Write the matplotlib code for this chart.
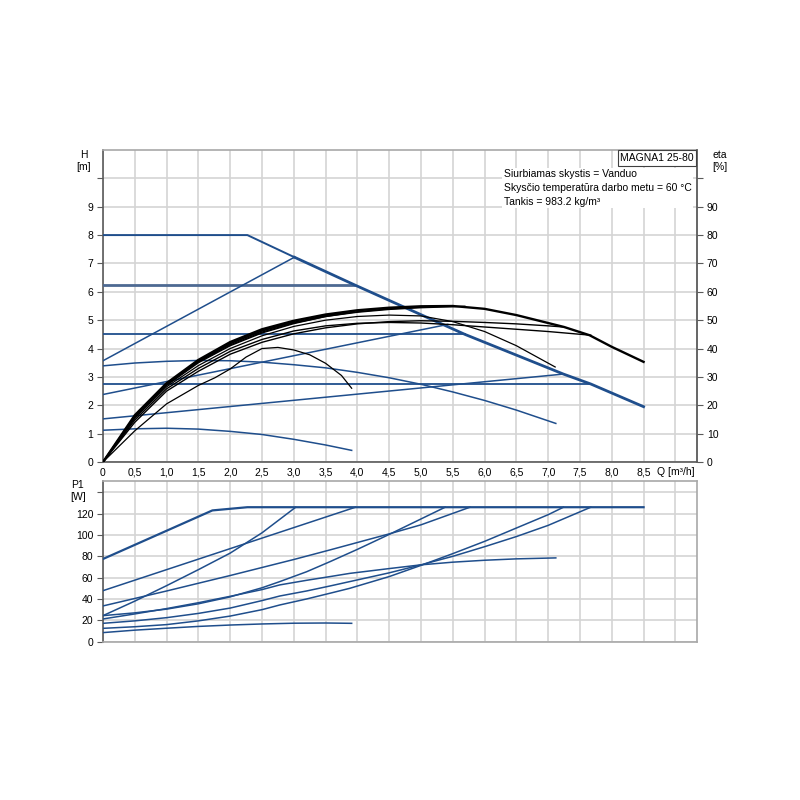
import matplotlib
matplotlib.use("Agg")
import matplotlib.pyplot as plt
import numpy as np

plt.rcParams['font.family'] = ['Liberation Sans', 'DejaVu Sans']

BLUE = '#1f4e8c'
GRID = '#d4d4d4'
SPINE = '#5a5a5a'

# ---------------- QH curves (H in m) ----------------
qh_max_q = [0, 2.27, 3.01, 3.95, 5.69, 7.24, 7.67, 8.5]
qh_max_h = [8.0, 8.0, 7.22, 6.25, 4.5, 3.1, 2.75, 1.95]

cp625_q = [0, 3.95]; cp625_h = [6.25, 6.25]
cp45_q = [0, 5.69]; cp45_h = [4.5, 4.5]
cp275_q = [0, 7.67]; cp275_h = [2.75, 2.75]

pp3_q = [0, 3.01]; pp3_h = [3.57, 7.22]
pp2_q = [0, 5.42]; pp2_h = [2.38, 4.85]
pp1_q = [0, 7.24]; pp1_h = [1.52, 3.1]

c3_q = [0, 0.5, 1, 1.5, 2, 2.5, 3, 3.5, 4, 4.5, 5, 5.5, 6, 6.5, 7.12]
c3_h = [3.39, 3.49, 3.55, 3.58, 3.57, 3.52, 3.43, 3.32, 3.16, 2.97, 2.74, 2.47, 2.17, 1.83, 1.36]

clow_q = [0, 0.5, 1, 1.5, 2, 2.5, 3, 3.5, 3.91]
clow_h = [1.12, 1.17, 1.19, 1.16, 1.08, 0.97, 0.8, 0.6, 0.41]

# ---------------- efficiency curves (eta in %) ----------------
emax_q = [0, 0.5, 1, 1.5, 2, 2.5, 3, 3.5, 4, 4.5, 5, 5.5, 6, 6.5, 7, 7.25, 7.65, 8, 8.5]
emax_e = [0, 16.5, 27.8, 36, 42.3, 46.8, 49.8, 52, 53.5, 54.4, 54.9, 55, 54, 51.8, 49, 47.6, 44.7, 40.6, 35.3]

ec3_q = [0, 0.5, 1, 1.5, 2, 2.5, 3, 3.5, 4, 4.5, 5, 5.5, 6, 6.5, 7.11]
ec3_e = [0, 15.5, 26.5, 34, 40, 44.5, 47.8, 50, 51.3, 51.8, 51.5, 49.5, 46, 41, 33.5]

elow_q = [0, 0.5, 1, 1.5, 1.76, 2, 2.25, 2.5, 2.75, 3, 3.25, 3.5, 3.75, 3.91]
elow_e = [0, 11, 20.5, 27, 29.7, 32.8, 37, 40, 40.4, 39.5, 37.8, 34.8, 30.5, 26]

ep1_q = [0, 0.5, 1, 1.5, 2, 2.5, 3, 3.5, 4, 4.5, 5, 5.5, 6, 6.5, 7, 7.24]
ep1_e = [0, 14, 25, 32, 38, 42.2, 45.2, 47.3, 48.7, 49.5, 49.8, 49.6, 49.2, 48.7, 48, 47.6]

ecp275_q = [0, 0.5, 1, 1.5, 2, 2.5, 3, 3.5, 4, 4.5, 5, 5.5, 6, 6.5, 7, 7.67]
ecp275_e = [0, 14.8, 25.8, 33, 39, 43.2, 46.2, 48, 48.9, 49.2, 49, 48.4, 47.6, 46.8, 46, 44.7]

ep2_q = [0, 0.5, 1, 1.5, 2, 2.5, 3, 3.5, 4, 4.5, 5, 5.42]
ep2_e = [0, 15.5, 27, 35, 41, 45.5, 48.8, 51.3, 53, 54, 54.6, 55]

ecp45_q = [0, 0.5, 1, 1.5, 2, 2.5, 3, 3.5, 4, 4.5, 5, 5.69]
ecp45_e = [0, 16, 27.3, 35.3, 41.3, 45.8, 49, 51.3, 52.8, 53.8, 54.4, 54.9]

ep3_q = [0, 0.5, 1, 1.5, 2, 2.5, 3.01]
ep3_e = [0, 16.3, 27.6, 35.7, 41.8, 46.3, 49.5]

ecp625_q = [0, 0.5, 1, 1.5, 2, 2.5, 3, 3.5, 3.95]
ecp625_e = [0, 16.2, 27.5, 35.5, 41.7, 46.2, 49.3, 51.6, 53.2]

# ---------------- power curves (P1 in W) ----------------
wmax_q = [0, 1.72, 2.27, 8.5]
wmax_p = [77.5, 123, 126, 126]
wcp625_q = [0, 3.97]
wcp625_p = [47.8, 126]
wcp45_q = [0, 1, 2, 3, 3.57, 4.5, 5, 5.77]
wcp45_p = [33.5, 47.5, 62, 77, 86, 101, 109.5, 126]
wpp3_q = [0, 0.5, 1, 1.5, 2, 2.5, 3.03]
wpp3_p = [24.4, 38, 52.5, 67.5, 83, 102, 126]
wpp2_q = [0, 0.5, 1, 1.5, 2, 2.5, 2.78, 3.2, 3.57, 4, 4.5, 5, 5.38]
wpp2_p = [24.4, 27, 30.5, 35.5, 42, 50.5, 56.3, 65.5, 75, 86.5, 100.5, 115, 126]
wc3_q = [0, 0.5, 1, 1.5, 2, 2.5, 2.78, 3.2, 3.57, 3.88, 4.5, 5, 5.5, 6, 6.5, 7.12]
wc3_p = [21.3, 26, 31, 36.5, 42.5, 48.8, 53.2, 57.5, 61, 64, 68.5, 72, 74.5, 76.3, 77.6, 78.5]
wcp275_q = [0, 0.5, 1, 1.5, 2, 2.5, 2.78, 3.2, 3.57, 3.88, 4.5, 5, 5.5, 6, 6.5, 7, 7.67]
wcp275_p = [17.2, 19.5, 22.5, 26.5, 31.5, 38.5, 42.8, 47.5, 52.2, 56.3, 64.5, 72, 80, 89, 98.5, 109, 126]
wpp1_q = [0, 0.5, 1, 1.5, 2, 2.5, 2.78, 3.2, 3.57, 3.88, 4.5, 5, 5.5, 6, 6.5, 7, 7.24]
wpp1_p = [12.5, 14, 16, 19.5, 24, 30, 34.4, 40, 45.4, 50, 61, 71.5, 82.5, 94, 106.5, 119, 126]
wclow_q = [0, 0.5, 1, 1.5, 2, 2.5, 3, 3.5, 3.91]
wclow_p = [8.5, 10.8, 12.6, 14.3, 15.6, 16.6, 17.3, 17.5, 17.2]

x_ticks = [0, 0.5, 1, 1.5, 2, 2.5, 3, 3.5, 4, 4.5, 5, 5.5, 6, 6.5, 7, 7.5, 8, 8.5, 9]
x_labels = ['0', '0,5', '1,0', '1,5', '2,0', '2,5', '3,0', '3,5', '4,0', '4,5',
            '5,0', '5,5', '6,0', '6,5', '7,0', '7,5', '8,0', '8,5', '']
h_ticks = [0, 1, 2, 3, 4, 5, 6, 7, 8, 9, 10]
h_labels = ['0', '1', '2', '3', '4', '5', '6', '7', '8', '9', '']
eta_ticks = [0, 10, 20, 30, 40, 50, 60, 70, 80, 90, 100]
eta_labels = ['0', '10', '20', '30', '40', '50', '60', '70', '80', '90', '']
p_ticks = [0, 20, 40, 60, 80, 100, 120, 140]
p_labels = ['0', '20', '40', '60', '80', '100', '120', '']

FS = 7.5
XMAX = 9.34

fig = plt.figure(figsize=(8, 8), dpi=100)
ax = fig.add_axes([0.12875, 0.4225, 0.7425, 0.39])
ax2 = ax.twinx()
axp = fig.add_axes([0.12875, 0.1979, 0.7425, 0.2009])

for a in (ax, axp):
    a.set_xlim(0, XMAX)
    a.set_xticks(x_ticks)
    a.grid(True, color=GRID, lw=1.2)
    a.set_axisbelow(True)
    for s in a.spines.values():
        s.set_color('#a8a8a8')
        s.set_linewidth(1.2)
    a.spines['left'].set_color(SPINE)

ax.set_ylim(0, 11)
ax.set_yticks(h_ticks)
ax.set_yticklabels(h_labels, fontsize=FS)
ax.set_xticklabels(x_labels, fontsize=FS)
ax.tick_params(axis='x', length=0, pad=4)
ax.tick_params(axis='y', length=4, color=SPINE, pad=3)
ax.spines['bottom'].set_color(SPINE)

ax2.set_ylim(0, 110)
ax2.set_yticks(eta_ticks)
ax2.set_yticklabels(eta_labels, fontsize=FS)
ax2.tick_params(axis='y', length=4, color=SPINE, pad=3)
for s in ax2.spines.values():
    s.set_visible(False)
ax2.spines['right'].set_visible(True)
ax2.spines['right'].set_color(SPINE)
ax2.spines['right'].set_linewidth(1.2)

axp.set_ylim(0, 150.6)
axp.set_yticks(p_ticks)
axp.set_yticklabels(p_labels, fontsize=FS)
axp.set_xticklabels([])
axp.tick_params(axis='x', length=0)
axp.tick_params(axis='y', length=4, color=SPINE, pad=3)

# QH curves
ax.plot(cp625_q, cp625_h, color='#4d6992', lw=2.0, zorder=3)
ax.plot(cp45_q, cp45_h, color=BLUE, lw=1.3, zorder=3)
ax.plot(cp275_q, cp275_h, color=BLUE, lw=1.3, zorder=3)
ax.plot(pp3_q, pp3_h, color=BLUE, lw=1.1, zorder=3)
ax.plot(pp2_q, pp2_h, color=BLUE, lw=1.1, zorder=3)
ax.plot(pp1_q, pp1_h, color=BLUE, lw=1.1, zorder=3)
ax.plot(c3_q, c3_h, color=BLUE, lw=1.1, zorder=3)
ax.plot(clow_q, clow_h, color=BLUE, lw=1.1, zorder=3)
ax.plot(qh_max_q[:3], qh_max_h[:3], color=BLUE, lw=1.4, zorder=3)
ax.plot(qh_max_q[2:], qh_max_h[2:], color=BLUE, lw=2.0, zorder=3)

# efficiency curves
for q, e, lw in [(ecp625_q, ecp625_e, 1.0), (ep3_q, ep3_e, 1.0), (ecp45_q, ecp45_e, 1.0),
                 (ep2_q, ep2_e, 1.0), (ecp275_q, ecp275_e, 1.0), (ep1_q, ep1_e, 1.0),
                 (ec3_q, ec3_e, 0.9), (elow_q, elow_e, 0.9), (emax_q, emax_e, 1.7)]:
    ax2.plot(q, e, color='black', lw=lw, zorder=4)

# power curves
for q, p, lw in [(wmax_q, wmax_p, 1.6), (wcp625_q, wcp625_p, 1.1), (wcp45_q, wcp45_p, 1.1),
                 (wpp3_q, wpp3_p, 1.1), (wpp2_q, wpp2_p, 1.1), (wc3_q, wc3_p, 1.1),
                 (wcp275_q, wcp275_p, 1.1), (wpp1_q, wpp1_p, 1.1), (wclow_q, wclow_p, 1.1)]:
    axp.plot(q, p, color=BLUE, lw=lw, zorder=3)

# labels
fig.text(84 / 800, 1 - 155 / 800, 'H', fontsize=FS, ha='center', va='center')
fig.text(84 / 800, 1 - 167 / 800, '[m]', fontsize=FS, ha='center', va='center')
fig.text(720 / 800, 1 - 155 / 800, 'eta', fontsize=FS, ha='center', va='center')
fig.text(720 / 800, 1 - 167 / 800, '[%]', fontsize=FS, ha='center', va='center')
fig.text(78 / 800, 1 - 485 / 800, 'P1', fontsize=FS, ha='center', va='center')
fig.text(78 / 800, 1 - 497 / 800, '[W]', fontsize=FS, ha='center', va='center')
fig.text(657 / 800, 1 - 472 / 800, 'Q [m³/h]', fontsize=FS, ha='left', va='center')

fig.text(657 / 800, 1 - 158 / 800, 'MAGNA1 25-80', fontsize=FS, ha='center', va='center',
         bbox=dict(boxstyle='square,pad=0.25', fc='white', ec='#404040', lw=0.8), zorder=10)
fig.text(504 / 800, 1 - 188 / 800,
         'Siurbiamas skystis = Vanduo\nSkysčio temperatūra darbo metu = 60 °C\nTankis = 983.2 kg/m³',
         fontsize=FS, ha='left', va='center', linespacing=1.45,
         bbox=dict(boxstyle='square,pad=0.15', fc='white', ec='none'), zorder=10)

fig.savefig('out.png', dpi=100, facecolor='white')
